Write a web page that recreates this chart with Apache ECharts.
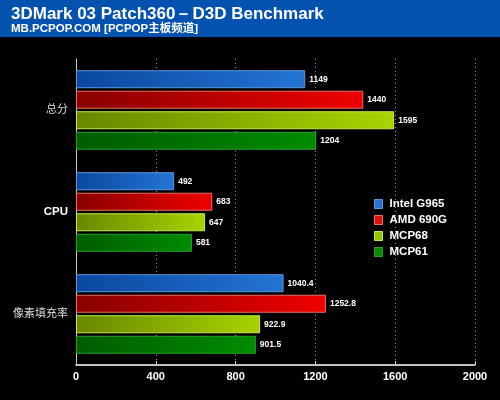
<!DOCTYPE html>
<html><head><meta charset="utf-8">
<script src="https://cdn.jsdelivr.net/npm/echarts@6/dist/echarts.min.js"></script>
<style>html,body{margin:0;padding:0;background:#000}#c{width:500px;height:400px}</style>
</head><body><div id="c"></div>
<script>
const categories = ['总分', 'CPU', '像素填充率'];
const seriesNames = ['Intel G965', 'AMD 690G', 'MCP68', 'MCP61'];
const intelG965 = [1149, 492, 1040.4];
const amd690G = [1440, 683, 1252.8];
const mcp68 = [1595, 647, 922.9];
const mcp61 = [1204, 581, 901.5];
const xTicks = [0, 400, 800, 1200, 1600, 2000];

const values = [intelG965, amd690G, mcp68, mcp61];
const palettes = [
  {l: '#0a48a0', r: '#2474d4', b: '#5c98e0', icon: '#2a70d0'},
  {l: '#880000', r: '#f00000', b: '#e87060', icon: '#e01010'},
  {l: '#688800', r: '#a8d400', b: '#c8e850', icon: '#98c400'},
  {l: '#005c00', r: '#008c00', b: '#2aa02a', icon: '#0a8a0a'}
];
const chart = echarts.init(document.getElementById('c'));
chart.setOption({
  backgroundColor: '#000',
  animation: false,
  graphic: [{type: 'rect', left: 0, top: 0, shape: {width: 500, height: 37}, style: {fill: '#0452b0'}, z: 0}],
  title: {
    text: '3DMark 03 Patch360－D3D Benchmark',
    subtext: 'MB.PCPOP.COM [PCPOP主板频道]',
    left: 6, top: 1, itemGap: 0,
    textStyle: {color: '#fff', fontSize: 17, fontWeight: 'bold', fontFamily: 'Liberation Sans, Arial, sans-serif'},
    subtextStyle: {color: '#fff', fontSize: 11.5, fontWeight: 'bold', fontFamily: 'Liberation Sans, Noto Sans CJK SC, sans-serif'}
  },
  legend: {
    orient: 'vertical', left: 369, top: 193, itemGap: 4,
    itemWidth: 8, itemHeight: 9, icon: 'rect',
    textStyle: {color: '#fff', fontSize: 11.5, fontWeight: 'bold', fontFamily: 'Liberation Sans, Arial, sans-serif', padding: [0,0,0,2]},
    data: seriesNames.map((n, i) => ({name: n, itemStyle: {color: palettes[i].icon, borderColor: palettes[i].b, borderWidth: 1}}))
  },
  grid: {left: 76, right: 25, top: 59, bottom: 35},
  xAxis: {
    type: 'value', min: 0, max: 2000, interval: 400,
    axisLine: {show: true, lineStyle: {color: '#fff', width: 1.5}},
    axisTick: {show: true, inside: true, length: 4, lineStyle: {color: '#ccc'}},
    axisLabel: {color: '#fff', fontSize: 11, fontWeight: 'bold', fontFamily: 'Liberation Sans, Arial, sans-serif', margin: 6,
      formatter: v => xTicks.includes(v) ? String(v) : ''},
    splitLine: {show: true, lineStyle: {color: '#999', type: [1, 3], width: 1}}
  },
  yAxis: {
    type: 'category', data: categories, inverse: true,
    axisLine: {show: true, lineStyle: {color: '#ccc', width: 1}},
    axisTick: {show: false},
    axisLabel: {color: '#ddd', fontSize: 11, margin: 8,
      fontFamily: 'Liberation Sans, Noto Sans CJK SC, sans-serif',
      formatter: v => v === 'CPU' ? '{b|' + v + '}' : v,
      rich: {b: {color: '#fff', fontSize: 11.5, fontWeight: 'bold', fontFamily: 'Liberation Sans, Arial, sans-serif'}}},
    splitLine: {show: false}
  },
  series: seriesNames.map((n, i) => ({
    name: n, type: 'bar', data: values[i],
    barWidth: 18, barGap: '14%', barCategoryGap: '20%',
    itemStyle: {
      color: new echarts.graphic.LinearGradient(0, 0, 1, 0, [{offset: 0, color: palettes[i].l}, {offset: 1, color: palettes[i].r}]),
      borderColor: palettes[i].b, borderWidth: 1
    },
    label: {show: true, position: 'right', distance: 4, color: '#fff', fontSize: 8.5, fontWeight: 'bold', fontFamily: 'Liberation Sans, Arial, sans-serif'}
  }))
});
</script></body></html>
